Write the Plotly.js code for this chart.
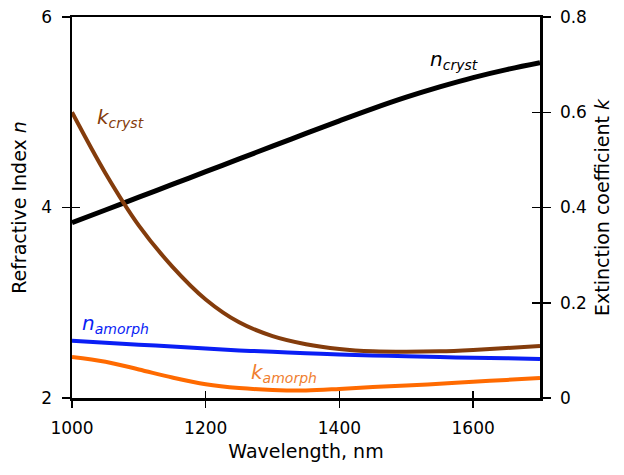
<!DOCTYPE html>
<html>
<head>
<meta charset="utf-8">
<script src="https://cdn.plot.ly/plotly-3.0.1.min.js"></script>
<style>html,body{margin:0;padding:0;background:#fff;}#chart{width:624px;height:475px;}</style>
</head>
<body>
<div id="chart"></div>
<script>
// Wavelength (nm)
const wavelength = [1000, 1050, 1100, 1150, 1200, 1250, 1300, 1350, 1400, 1450, 1500, 1550, 1600, 1650, 1700];
// Refractive index n (left axis)
const nCryst   = [3.84, 3.974, 4.108, 4.242, 4.376, 4.51, 4.644, 4.778, 4.91, 5.038, 5.158, 5.266, 5.364, 5.448, 5.52];
const nAmorph  = [2.60, 2.58, 2.56, 2.54, 2.52, 2.50, 2.485, 2.47, 2.458, 2.447, 2.438, 2.43, 2.423, 2.417, 2.41];
// Extinction coefficient k (right axis)
const kCryst   = [0.600, 0.472, 0.362, 0.276, 0.207, 0.159, 0.130, 0.113, 0.103, 0.098, 0.097, 0.098, 0.101, 0.105, 0.109];
const kAmorph  = [0.086, 0.076, 0.060, 0.043, 0.029, 0.021, 0.017, 0.016, 0.019, 0.023, 0.026, 0.030, 0.034, 0.038, 0.042];

const xTicks = [1000, 1200, 1400, 1600];
const nTicks = [2, 4, 6];
const kTicks = [0, 0.2, 0.4, 0.6, 0.8];

const FONT = "DejaVu Sans, sans-serif";

const traces = [
  {x: wavelength, y: nCryst, mode: 'lines', line: {color: '#000000', width: 5, shape: 'spline', smoothing: 1}, xaxis: 'x', yaxis: 'y', hoverinfo: 'skip'},
  {x: wavelength, y: kCryst, mode: 'lines', line: {color: '#843C0C', width: 4, shape: 'spline', smoothing: 1}, xaxis: 'x', yaxis: 'y2', hoverinfo: 'skip'},
  {x: wavelength, y: nAmorph, mode: 'lines', line: {color: '#0A1EF5', width: 4, shape: 'spline', smoothing: 1}, xaxis: 'x', yaxis: 'y', hoverinfo: 'skip'},
  {x: wavelength, y: kAmorph, mode: 'lines', line: {color: '#FF6A00', width: 4, shape: 'spline', smoothing: 1}, xaxis: 'x', yaxis: 'y2', hoverinfo: 'skip'},
  // empty traces to activate overlay axes carrying inward tick halves
  {x: [], y: [], xaxis: 'x2', yaxis: 'y3', hoverinfo: 'skip', showlegend: false},
  {x: [], y: [], xaxis: 'x2', yaxis: 'y4', hoverinfo: 'skip', showlegend: false}
];

const tickFont = {family: FONT, size: 17, color: '#000'};
const layout = {
  width: 624, height: 475,
  margin: {l: 72, r: 84, t: 17, b: 77},
  paper_bgcolor: '#fff', plot_bgcolor: '#fff',
  showlegend: false,
  xaxis: {
    range: [1000, 1700], tickvals: xTicks, ticks: 'outside', ticklen: 7, tickwidth: 1.5, tickcolor: '#000',
    showline: true, linecolor: '#000', linewidth: 2.5, mirror: true, showgrid: false, zeroline: false,
    tickfont: tickFont, ticklabelstandoff: 6,
    title: {text: 'Wavelength, nm', font: {family: FONT, size: 19, color: '#000'}, standoff: 8}
  },
  yaxis: {
    range: [2, 6], tickvals: nTicks, ticks: 'outside', ticklen: 8, tickwidth: 1.5, tickcolor: '#000',
    showline: true, linecolor: '#000', linewidth: 2.5, showgrid: false, zeroline: false,
    tickfont: tickFont, ticklabelstandoff: 6,
    title: {text: 'Refractive Index <i>n</i>', font: {family: FONT, size: 19, color: '#000'}, standoff: 10}
  },
  yaxis2: {
    range: [0, 0.8], tickvals: kTicks, ticktext: ['0', '0.2', '0.4', '0.6', '0.8'], overlaying: 'y', side: 'right',
    ticks: 'outside', ticklen: 8, tickwidth: 1.5, tickcolor: '#000',
    showline: true, linecolor: '#000', linewidth: 2.5, showgrid: false, zeroline: false,
    tickfont: tickFont, ticklabelstandoff: 6,
    title: {text: 'Extinction coefficient <i>k</i>', font: {family: FONT, size: 19, color: '#000'}, standoff: 10}
  },
  xaxis2: {
    range: [1000, 1700], tickvals: xTicks, overlaying: 'x', anchor: 'y3', ticks: 'inside', ticklen: 7, tickwidth: 1.5, tickcolor: '#000',
    showticklabels: false, showline: false, showgrid: false, zeroline: false
  },
  yaxis3: {
    range: [2, 6], tickvals: nTicks, overlaying: 'y', anchor: 'x2', side: 'left', ticks: 'inside', ticklen: 8, tickwidth: 1.5, tickcolor: '#000',
    showticklabels: false, showline: false, showgrid: false, zeroline: false
  },
  yaxis4: {
    range: [0, 0.8], tickvals: kTicks, overlaying: 'y', anchor: 'x2', side: 'right', ticks: 'inside', ticklen: 8, tickwidth: 1.5, tickcolor: '#000',
    showticklabels: false, showline: false, showgrid: false, zeroline: false
  },
  annotations: [
    {text: '<i>k<sub>cryst</sub></i>', x: 1034, y: 4.94, xref: 'x', yref: 'y', xanchor: 'left', yanchor: 'middle', showarrow: false, font: {family: FONT, size: 20, color: '#843C0C'}},
    {text: '<i>n<sub>cryst</sub></i>', x: 1532, y: 5.55, xref: 'x', yref: 'y', xanchor: 'left', yanchor: 'middle', showarrow: false, font: {family: FONT, size: 20, color: '#000'}},
    {text: '<i>n<sub>amorph</sub></i>', x: 1012, y: 2.78, xref: 'x', yref: 'y', xanchor: 'left', yanchor: 'middle', showarrow: false, font: {family: FONT, size: 20, color: '#0A1EF5'}},
    {text: '<i>k<sub>amorph</sub></i>', x: 1264, y: 2.26, xref: 'x', yref: 'y', xanchor: 'left', yanchor: 'middle', showarrow: false, font: {family: FONT, size: 20, color: '#F08030'}}
  ]
};

Plotly.newPlot('chart', traces, layout, {displayModeBar: false, staticPlot: true});
</script>
</body>
</html>
